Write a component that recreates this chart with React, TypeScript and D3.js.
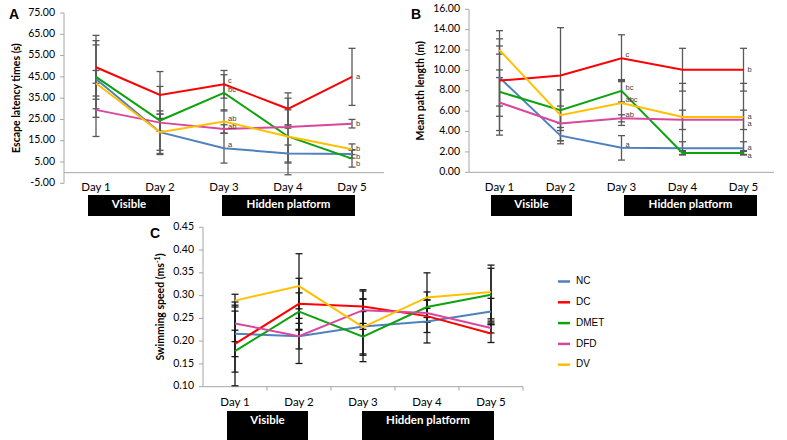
import React from "react";
import * as d3 from "d3";

const days = ["Day 1", "Day 2", "Day 3", "Day 4", "Day 5"];
const groups = ["NC", "DC", "DMET", "DFD", "DV"];
const groupColors = ["#4F81BD", "#FF0000", "#0DA30D", "#D9479D", "#FFC000"];

// Panel A: escape latency (s)
const escNC = [44, 19, 11.5, 9, 8.8];
const escDC = [49.5, 36.5, 41.5, 30, 45];
const escDMET = [45, 24.5, 37.5, 17, 6.6];
const escDFD = [29.5, 23.5, 20.5, 21.4, 23];
const escDV = [42, 19, 24, 17, 11];
const escErrNC = [18, 10, 7, 4, 2];
const escErrDC = [15, 11, 6.5, 7.5, 13.4];
const escErrDMET = [15, 16, 8.5, 18, 4];
const escErrDFD = [12.5, 4, 2, 0.5, 2];
const escErrDV = [6, 8.5, 5.5, 12.5, 2.5];
const escTicks = [-5, 5, 15, 25, 35, 45, 55, 65, 75];
const escLettersDay3 = ["a", "c", "bc", "ab", "ab"];
const escLettersDay5 = ["b", "a", "b", "b", "b"];

// Panel B: mean path length (m)
const pathNC = [9.3, 3.6, 2.4, 2.35, 2.35];
const pathDC = [9.0, 9.5, 11.2, 10.07, 10.07];
const pathDMET = [7.9, 6.1, 8.0, 1.9, 1.9];
const pathDFD = [6.85, 4.8, 5.3, 5.15, 5.15];
const pathDV = [12.0, 5.6, 6.8, 5.43, 5.43];
const pathErrNC = [3.8, 0.8, 1.2, 0.65, 0.65];
const pathErrDC = [4.9, 4.7, 2.3, 2.1, 2.1];
const pathErrDMET = [1.4, 2.0, 1.1, 0.15, 0.15];
const pathErrDFD = [3.2, 1.7, 0.35, 0.95, 0.95];
const pathErrDV = [0.4, 2.5, 2.2, 3.3, 3.3];
const pathTicks = [0, 2, 4, 6, 8, 10, 12, 14, 16];
const pathLettersDay3 = ["a", "c", "bc", "ab", "abc"];
const pathLettersDay5 = ["a", "b", "a", "a", "a"];

// Panel C: swimming speed (m/s)
const speedNC = [0.216, 0.211, 0.232, 0.243, 0.265];
const speedDC = [0.194, 0.282, 0.276, 0.255, 0.217];
const speedDMET = [0.178, 0.265, 0.21, 0.275, 0.302];
const speedDFD = [0.239, 0.211, 0.268, 0.262, 0.229];
const speedDV = [0.289, 0.321, 0.231, 0.296, 0.308];
const speedErrNC = [0.05, 0.06, 0.06, 0.047, 0.029];
const speedErrDC = [0.092, 0.056, 0.037, 0.036, 0.02];
const speedErrDMET = [0.046, 0.041, 0.055, 0.033, 0.058];
const speedErrDFD = [0.04, 0.028, 0.042, 0.01, 0.011];
const speedErrDV = [0.014, 0.071, 0.062, 0.054, 0.059];
const speedTicks = [0.1, 0.15, 0.2, 0.25, 0.3, 0.35, 0.4, 0.45];

const phases = ["Visible", "Hidden platform"];

const FONT = "Lato, 'Open Sans', sans-serif";
const LEGEND_FONT = "'Liberation Sans', Arial, sans-serif";

type PanelProps = {
  letter: string;
  title: React.ReactNode;
  series: number[][];
  errors: number[][];
  ticks: number[];
  domain: [number, number];
  x0: number; x1: number; yTop: number; yBottom: number;
  baseValue: number;
  fmt: (v: number) => string;
  errColor: string;
  catTicks: boolean;
  lettersDay3?: string[];
  lettersDay5?: string[];
  letterPos: [number, number];
  titleX: number;
  dayY: number;
  boxes: { x0: number; x1: number; y0: number; y1: number; label: string }[];
};

function placeLabels(ys: number[], gap: number) {
  const order = ys.map((y, i) => ({ y, i })).sort((a, b) => a.y - b.y);
  for (let k = 1; k < order.length; k++) {
    if (order[k].y - order[k - 1].y < gap) order[k].y = order[k - 1].y + gap;
  }
  const out = new Array(ys.length);
  order.forEach((o) => (out[o.i] = o.y));
  return out as number[];
}

function Panel(p: PanelProps) {
  const x = d3.scaleBand<string>().domain(days).range([p.x0, p.x1]);
  const cx = (d: string) => (x(d) as number) + x.bandwidth() / 2;
  const y = d3.scaleLinear().domain(p.domain).range([p.yBottom, p.yTop]);
  const line = d3
    .line<number>()
    .x((_, i) => cx(days[i]))
    .y((v) => y(v));
  const axisColor = "#A6A6A6";
  const cap = 3.5;

  const labelSet = (letters: string[] | undefined, di: number, dy: number, gap: number) => {
    if (!letters) return null;
    const ys = placeLabels(p.series.map((s) => y(s[di]) + dy), gap);
    return letters.map((l, gi) => (
      <text key={`l${di}${gi}`} x={cx(days[di]) + 4} y={ys[gi]} fontSize={7.5} fill="#404040"
        fontFamily={LEGEND_FONT} dominantBaseline="middle">{l}</text>
    ));
  };

  return (
    <g>
      <text x={p.letterPos[0]} y={p.letterPos[1]} fontSize={14} fontWeight="bold"
        fontFamily={LEGEND_FONT} fill="#000">{p.letter}</text>
      {/* y axis */}
      <line x1={p.x0} x2={p.x0} y1={p.yTop} y2={p.yBottom} stroke={axisColor} />
      {p.ticks.map((t) => (
        <g key={t}>
          <line x1={p.x0 - 4} x2={p.x0} y1={y(t)} y2={y(t)} stroke={axisColor} />
          <text x={p.x0 - 9} y={y(t)} textAnchor="end" dominantBaseline="middle"
            fontSize={10.5} fontFamily={FONT} fill="#000">{p.fmt(t)}</text>
        </g>
      ))}
      {/* x axis */}
      <line x1={p.x0} x2={p.x1} y1={y(p.baseValue)} y2={y(p.baseValue)} stroke={axisColor} />
      {p.catTicks && days.map((d) => (
        <line key={d} x1={(x(d) as number) + x.bandwidth()} x2={(x(d) as number) + x.bandwidth()}
          y1={y(p.baseValue)} y2={y(p.baseValue) + 4} stroke={axisColor} />
      ))}
      {days.map((d) => (
        <text key={d} x={cx(d)} y={p.dayY} textAnchor="middle" fontSize={11.5}
          fontFamily={FONT} fill="#000">{d}</text>
      ))}
      {/* title */}
      <text transform={`translate(${p.titleX},${(p.yTop + p.yBottom) / 2}) rotate(-90)`}
        textAnchor="middle" fontSize={10.5} fontWeight="bold" fontFamily={FONT} fill="#000">{p.title}</text>
      {/* error bars */}
      {p.series.map((s, gi) =>
        s.map((v, di) => {
          const e = p.errors[gi][di];
          const xx = cx(days[di]);
          return (
            <g key={`e${gi}-${di}`} stroke={p.errColor} strokeWidth={1.3}>
              <line x1={xx} x2={xx} y1={y(v - e)} y2={y(v + e)} />
              <line x1={xx - cap} x2={xx + cap} y1={y(v - e)} y2={y(v - e)} />
              <line x1={xx - cap} x2={xx + cap} y1={y(v + e)} y2={y(v + e)} />
            </g>
          );
        })
      )}
      {/* lines */}
      {p.series.map((s, gi) => (
        <path key={`s${gi}`} d={line(s) as string} fill="none" stroke={groupColors[gi]} strokeWidth={2} />
      ))}
      {labelSet(p.lettersDay3, 2, -3, 8)}
      {labelSet(p.lettersDay5, 4, 0, 7.5)}
      {p.boxes.map((b) => (
        <g key={b.label}>
          <rect x={b.x0} y={b.y0} width={b.x1 - b.x0} height={b.y1 - b.y0} fill="#000" />
          <text x={(b.x0 + b.x1) / 2} y={(b.y0 + Math.min(b.y1, b.y0 + 21)) / 2} textAnchor="middle"
            dominantBaseline="middle" fontSize={11.5} fontWeight="bold" fontFamily={FONT} fill="#fff">{b.label}</text>
        </g>
      ))}
    </g>
  );
}

export default function App() {
  return (
    <svg width={787} height={440} style={{ position: "absolute", left: 0, top: 0, background: "#fff" }}>
      <rect width={787} height={440} fill="#fff" />
      <Panel letter="A" title="Escape latency times (s)"
        series={[escNC, escDC, escDMET, escDFD, escDV]}
        errors={[escErrNC, escErrDC, escErrDMET, escErrDFD, escErrDV]}
        ticks={escTicks} domain={[-5, 75]} x0={64} x1={384} yTop={13} yBottom={183.3}
        baseValue={0} fmt={(v) => v.toFixed(2)} errColor="#595959" catTicks={false}
        lettersDay3={escLettersDay3} lettersDay5={escLettersDay5}
        letterPos={[9, 19]} titleX={20} dayY={191}
        boxes={[{ x0: 88, x1: 170, y0: 195, y1: 216, label: phases[0] }, { x0: 222, x1: 355, y0: 195, y1: 216, label: phases[1] }]} />
      <Panel letter="B" title="Mean path length (m)"
        series={[pathNC, pathDC, pathDMET, pathDFD, pathDV]}
        errors={[pathErrNC, pathErrDC, pathErrDMET, pathErrDFD, pathErrDV]}
        ticks={pathTicks} domain={[0, 16]} x0={469} x1={774} yTop={9.3} yBottom={172.3}
        baseValue={0} fmt={(v) => v.toFixed(2)} errColor="#595959" catTicks={false}
        lettersDay3={pathLettersDay3} lettersDay5={pathLettersDay5}
        letterPos={[411, 19]} titleX={424} dayY={191}
        boxes={[{ x0: 491, x1: 572, y0: 195, y1: 216, label: phases[0] }, { x0: 624, x1: 757, y0: 195, y1: 216, label: phases[1] }]} />
      <Panel letter="C" title={<tspan>Swimming speed (ms<tspan dy={-4} fontSize={7}>-1</tspan><tspan dy={4}>)</tspan></tspan>}
        series={[speedNC, speedDC, speedDMET, speedDFD, speedDV]}
        errors={[speedErrNC, speedErrDC, speedErrDMET, speedErrDFD, speedErrDV]}
        ticks={speedTicks} domain={[0.1, 0.45]} x0={203} x1={523} yTop={227.3} yBottom={386.7}
        baseValue={0.1} fmt={(v) => v.toFixed(2)} errColor="#1a1a1a" catTicks={true}
        letterPos={[150, 238]} titleX={164} dayY={406}
        boxes={[{ x0: 227, x1: 308, y0: 411, y1: 440, label: phases[0] }, { x0: 362, x1: 494, y0: 411, y1: 440, label: phases[1] }]} />
      {groups.map((g, i) => (
        <g key={g}>
          <line x1={558} x2={570} y1={281.5 + i * 20.8} y2={281.5 + i * 20.8} stroke={groupColors[i]} strokeWidth={2.5} />
          <text x={576} y={281.5 + i * 20.8} dominantBaseline="middle" fontSize={10}
            fontFamily={LEGEND_FONT} fill="#000">{g}</text>
        </g>
      ))}
    </svg>
  );
}
